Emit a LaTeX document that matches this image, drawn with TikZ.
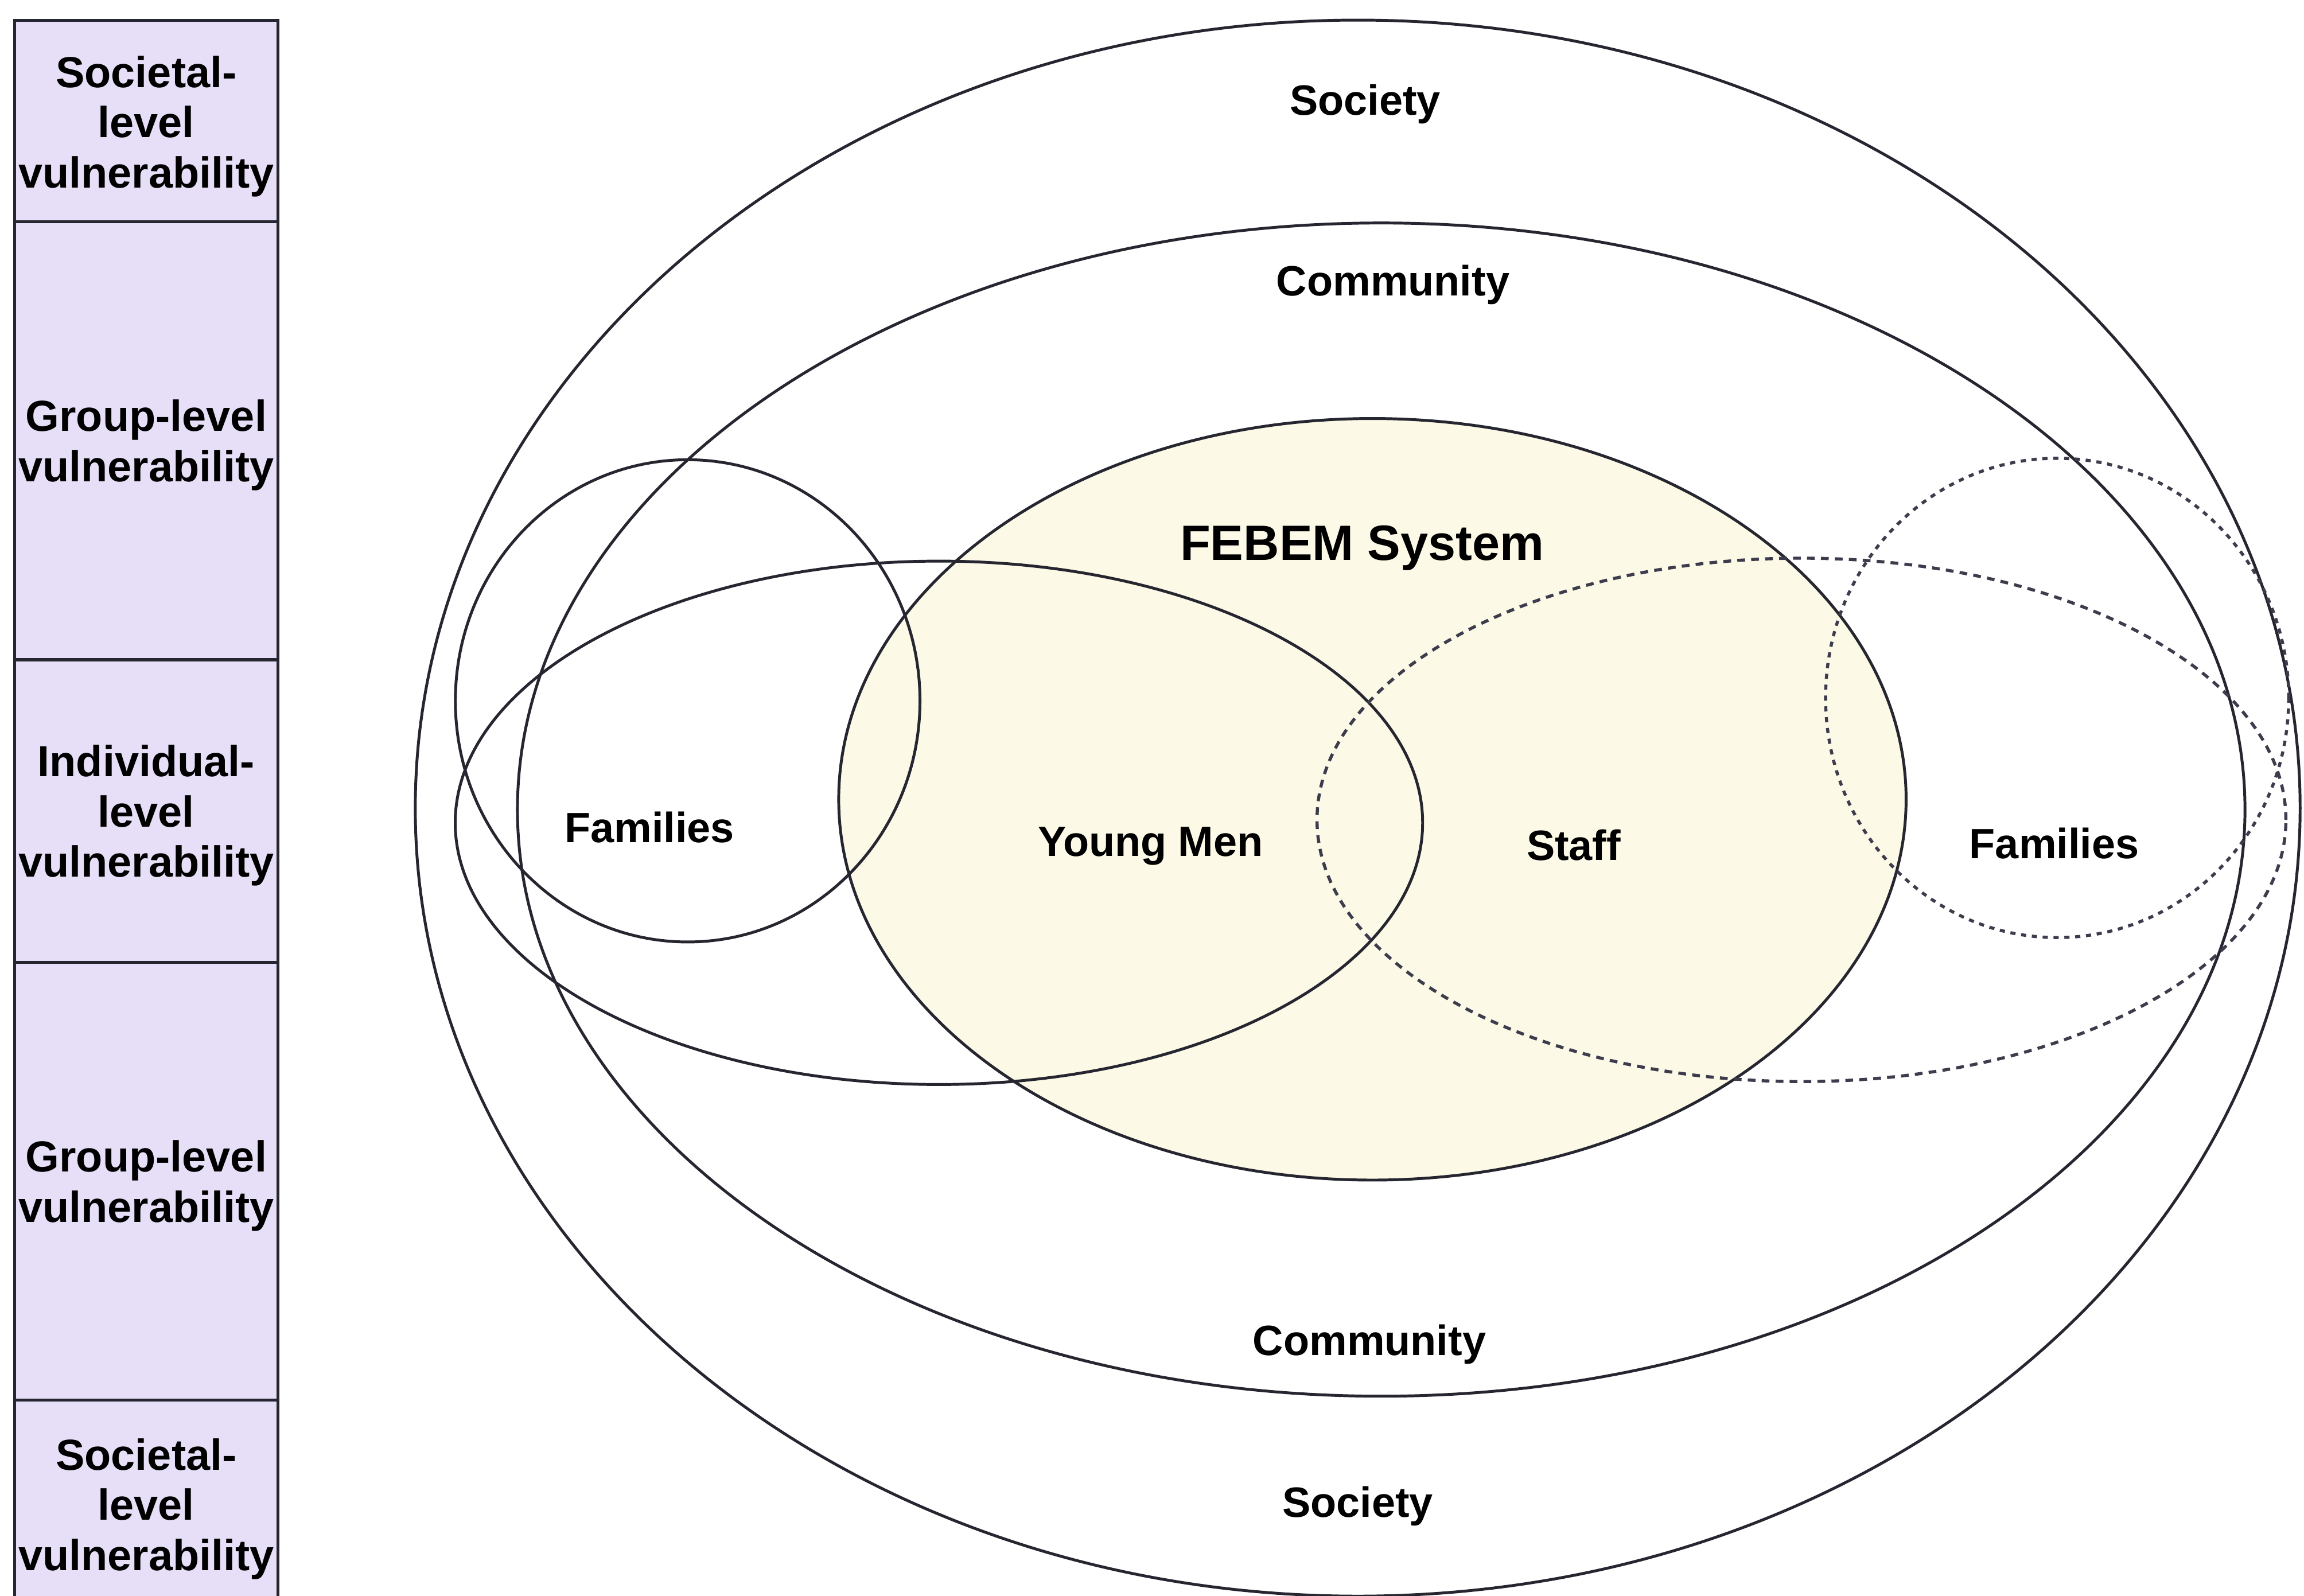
\documentclass[tikz,border=0pt]{standalone}
\usepackage{fontspec}
\setmainfont{Liberation Sans}
\usetikzlibrary{shapes.geometric}
\definecolor{linec}{HTML}{262630}
\definecolor{dashc}{HTML}{3C3C4C}
\definecolor{lvlfill}{HTML}{E6DFF7}
\definecolor{sysfill}{HTML}{FCF9E7}
\begin{document}
\begin{tikzpicture}[x=0.01cm,y=-0.01cm,
  ring/.style={draw=linec, line width=0.55pt, ellipse, inner sep=0pt, outer sep=0pt},
  dashring/.style={ring, draw=dashc, line width=0.6pt, dash pattern=on 1.5pt off 1.2pt},
  dotring/.style={ring, draw=dashc, line width=0.6pt, dash pattern=on 1pt off 1.1pt},
  lvl/.style={draw=linec, line width=0.6pt, fill=lvlfill, rectangle, inner sep=0pt,
    minimum width=1.79cm},
  lvltext/.style={align=center, inner sep=0pt,
    font=\fontsize{8.4}{9.7}\selectfont\bfseries},
  lbl/.style={font=\fontsize{8.2}{9.8}\selectfont\bfseries, inner sep=0pt}]
\useasboundingbox[fill=white] (0,0) rectangle (1568,1086);

% vulnerability levels column
\node[lvl, minimum height=1.37cm] (lv1) at (99.5,82.5) {};
\node[lvl, minimum height=2.98cm] (lv2) at (99.5,300) {};
\node[lvl, minimum height=2.06cm] (lv3) at (99.5,552) {};
\node[lvl, minimum height=2.98cm] (lv4) at (99.5,804) {};
\node[lvl, minimum height=1.42cm] (lv5) at (99.5,1024) {};
\node[lvltext] (lt1) at ([yshift=-0.035cm]lv1.center) {Societal-\\level\\vulnerability};
\node[lvltext] (lt2) at ([yshift=-0.03cm]lv2.center) {Group-level\\vulnerability};
\node[lvltext] (lt3) at ([yshift=-0.03cm]lv3.center) {Individual-\\level\\vulnerability};
\node[lvltext] (lt4) at ([yshift=-0.03cm]lv4.center) {Group-level\\vulnerability};
\node[lvltext] (lt5) at ([yshift=-0.03cm]lv5.center) {Societal-\\level\\vulnerability};

% FEBEM system (filled, drawn first)
\node[ring, fill=sysfill, minimum width=7.26cm, minimum height=5.18cm] (febem) at (934,544) {};

% nested contexts
\node[ring, minimum width=12.82cm, minimum height=10.72cm] (society) at (924,550) {};
\node[ring, minimum width=11.75cm, minimum height=7.98cm] (community) at (940,551) {};

% groups
\node[ring, minimum width=6.58cm, minimum height=3.56cm] (young) at (639,560) {};
\node[ring, minimum width=3.16cm, minimum height=3.28cm] (famL) at (468,477) {};
\node[dashring, minimum width=6.59cm, minimum height=3.56cm] (staff) at (1226,558) {};
\node[dotring, minimum width=3.15cm, minimum height=3.26cm] (famR) at (1400,475) {};

% labels
\node[lbl] (tSocTop) at (929,71) {Society};
\node[lbl] (tSocBot) at (924,1025) {Society};
\node[lbl] (tComTop) at (948,194) {Community};
\node[lbl] (tComBot) at (932,915) {Community};
\node[lbl, font=\fontsize{9.6}{11}\selectfont\bfseries] (tSys) at (927,373) {FEBEM System};
\node[lbl] (tFamL) at (442,563) {Families};
\node[lbl] (tYoung) at (783,576) {Young Men};
\node[lbl] (tStaff) at (1071,575) {Staff};
\node[lbl] (tFamR) at (1398,574) {Families};
\end{tikzpicture}
\end{document}
